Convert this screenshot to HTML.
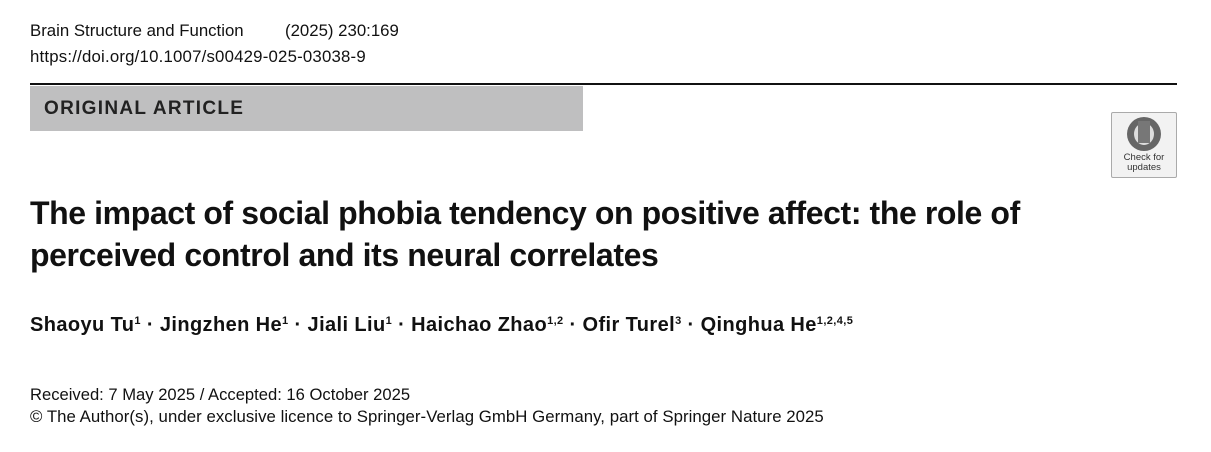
<!DOCTYPE html>
<html><head><meta charset="utf-8"><style>
body{margin:0;width:1211px;height:452px;background:#fff;font-family:"Liberation Sans",sans-serif;color:#111;position:relative;overflow:hidden}
.a{position:absolute;white-space:nowrap}
sup{font-size:11px;vertical-align:7px;line-height:0}
</style></head><body>
<div class="a" style="left:30px;top:21px;font-size:16.8px">Brain Structure and Function</div>
<div class="a" style="left:285px;top:21px;font-size:16.8px">(2025) 230:169</div>
<div class="a" style="left:30px;top:47px;font-size:16.8px;letter-spacing:0.2px">https://doi.org/10.1007/s00429-025-03038-9</div>
<div class="a" style="left:30px;top:83px;width:1147px;height:2px;background:#111"></div>
<div class="a" style="left:30px;top:86px;width:553px;height:45px;background:#bfbfc0"></div>
<div class="a" style="left:44px;top:98px;font-size:19px;font-weight:bold;letter-spacing:1.3px;color:#222">ORIGINAL ARTICLE</div>
<div class="a" style="left:1111px;top:112px;width:64px;height:64px;border:1px solid #aaa;background:#f2f2f2;border-radius:2px">
<div style="position:absolute;left:15px;top:4px;width:34px;height:34px;border-radius:50%;background:#666"></div>
<div style="position:absolute;left:22px;top:10px;width:20px;height:22px;border-radius:50%;background:#ddd"></div>
<div style="position:absolute;left:26px;top:8px;width:12px;height:22px;background:#777"></div>
<div style="position:absolute;left:0;width:64px;top:40px;font-size:9.5px;line-height:10px;text-align:center;color:#333">Check for<br>updates</div>
</div>
<div class="a" style="left:30px;top:192px;font-size:32px;font-weight:bold;line-height:42px;letter-spacing:-0.4px">The impact of social phobia tendency on positive affect: the role of<br>perceived control and its neural correlates</div>
<div class="a" style="left:30px;top:314px;font-size:20px;font-weight:bold;letter-spacing:0.4px">Shaoyu Tu<sup>1</sup> · Jingzhen He<sup>1</sup> · Jiali Liu<sup>1</sup> · Haichao Zhao<sup>1,2</sup> · Ofir Turel<sup>3</sup> · Qinghua He<sup>1,2,4,5</sup></div>
<div class="a" style="left:30px;top:385px;font-size:16.6px">Received: 7 May 2025 / Accepted: 16 October 2025</div>
<div class="a" style="left:30px;top:407px;font-size:16.8px;letter-spacing:0.05px">© The Author(s), under exclusive licence to Springer-Verlag GmbH Germany, part of Springer Nature 2025</div>
</body></html>
